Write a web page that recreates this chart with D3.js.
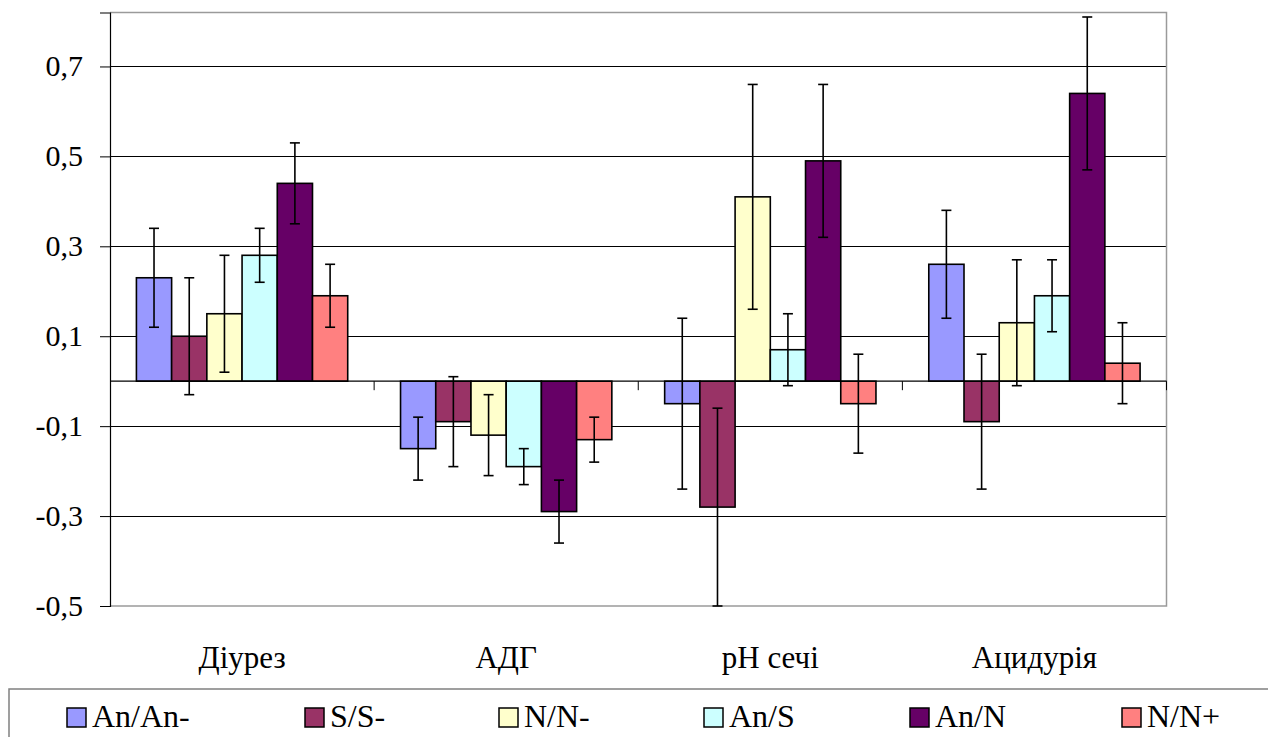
<!DOCTYPE html>
<html>
<head>
<meta charset="utf-8">
<script src="https://cdn.jsdelivr.net/npm/d3@7"></script>
<style>
  html, body { margin: 0; padding: 0; background: #fff; }
  svg { display: block; }
</style>
</head>
<body>
<svg id="chart" width="1268" height="737"></svg>
<script>
// Indicators along the category axis
const categories = ["Діурез", "АДГ", "pH сечі", "Ацидурія"];
// Comparison groups
const seriesNames = ["An/An-", "S/S-", "N/N-", "An/S", "An/N", "N/N+"];
// Mean values per group, one entry per indicator
const valAnAn = [0.23, -0.15, -0.05, 0.26];
const valSS   = [0.10, -0.09, -0.28, -0.09];
const valNN   = [0.15, -0.12, 0.41, 0.13];
const valAnS  = [0.28, -0.19, 0.07, 0.19];
const valAnN  = [0.44, -0.29, 0.49, 0.64];
const valNNp  = [0.19, -0.13, -0.05, 0.04];
// Error half-widths per group
const errAnAn = [0.11, 0.07, 0.19, 0.12];
const errSS   = [0.13, 0.10, 0.22, 0.15];
const errNN   = [0.13, 0.09, 0.25, 0.14];
const errAnS  = [0.06, 0.04, 0.08, 0.08];
const errAnN  = [0.09, 0.07, 0.17, 0.17];
const errNNp  = [0.07, 0.05, 0.11, 0.09];
// Value axis ticks
const yTicks = [0.7, 0.5, 0.3, 0.1, -0.1, -0.3, -0.5];
const yTickLabels = ["0,7", "0,5", "0,3", "0,1", "-0,1", "-0,3", "-0,5"];

const seriesValues = [valAnAn, valSS, valNN, valAnS, valAnN, valNNp];
const seriesErrors = [errAnAn, errSS, errNN, errAnS, errAnN, errNNp];
const colors = ["#9999FF", "#993366", "#FFFFCC", "#CCFFFF", "#660066", "#FF8080"];

const svg = d3.select("#chart");
const plot = { left: 110, right: 1166.5, top: 12.5, bottom: 606 };

const y = d3.scaleLinear().domain([-0.5, 0.82]).range([plot.bottom, plot.top]);
const x0 = d3.scaleBand().domain(categories).range([plot.left, plot.right])
  .paddingInner(0.2).paddingOuter(0.1);
const x1 = d3.scaleBand().domain(seriesNames).range([0, x0.bandwidth()]).padding(0);
const color = d3.scaleOrdinal().domain(seriesNames).range(colors);

// All labels share one serif face
function serifText(sel, size) {
  return sel.style("font-family", "Times New Roman")
    .style("font-size", size + "px")
    .style("fill", "#000");
}

// Gridlines
svg.append("g").selectAll("line").data(yTicks.filter(t => t > -0.5)).join("line")
  .attr("x1", plot.left).attr("x2", plot.right)
  .attr("y1", d => Math.round(y(d)) + 0.5).attr("y2", d => Math.round(y(d)) + 0.5)
  .attr("stroke", "#000").attr("stroke-width", 1);

// Plot area frame (top, right, bottom in grey)
svg.append("path")
  .attr("d", `M${plot.left},${plot.top}H${plot.right}V${plot.bottom}H${plot.left}`)
  .attr("fill", "none").attr("stroke", "#9a9a9a").attr("stroke-width", 1.5);

// Value axis: line and ticks from d3.axisLeft, labels set below
const yAxis = d3.axisLeft(y).tickValues(yTicks).tickSize(10).tickFormat("");
const gy = svg.append("g").attr("transform", `translate(${plot.left},0)`).call(yAxis);
gy.select(".domain").attr("stroke", "#000").attr("stroke-width", 1.2);
gy.selectAll(".tick line").attr("stroke", "#000");
gy.selectAll(".tick text").remove();

serifText(svg.selectAll("text.ytick").data(yTicks).join("text").attr("class", "ytick")
  .attr("x", 83).attr("y", d => y(d) + 10)
  .attr("text-anchor", "end")
  .text((d, i) => yTickLabels[i]), 30);

// Bars
const groups = svg.append("g").selectAll("g").data(categories).join("g")
  .attr("transform", c => `translate(${x0(c)},0)`);

const barData = (c, ci) => seriesNames.map((s, si) => ({
  s, v: seriesValues[si][ci], e: seriesErrors[si][ci]
}));

groups.each(function (c, ci) {
  const g = d3.select(this);
  const data = barData(c, ci);
  g.selectAll("rect").data(data).join("rect")
    .attr("x", d => x1(d.s))
    .attr("y", d => y(Math.max(0, d.v)))
    .attr("width", x1.bandwidth())
    .attr("height", d => Math.abs(y(d.v) - y(0)))
    .attr("fill", d => color(d.s))
    .attr("stroke", "#000").attr("stroke-width", 1.6);

  const eb = g.selectAll("g.err").data(data).join("g").attr("class", "err")
    .attr("transform", d => `translate(${x1(d.s) + x1.bandwidth() / 2},0)`);
  eb.append("line").attr("x1", 0).attr("x2", 0)
    .attr("y1", d => y(d.v + d.e)).attr("y2", d => y(d.v - d.e))
    .attr("stroke", "#000").attr("stroke-width", 1.6);
  eb.append("line").attr("x1", -5).attr("x2", 5)
    .attr("y1", d => y(d.v + d.e)).attr("y2", d => y(d.v + d.e))
    .attr("stroke", "#000").attr("stroke-width", 1.6);
  eb.append("line").attr("x1", -5).attr("x2", 5)
    .attr("y1", d => y(d.v - d.e)).attr("y2", d => y(d.v - d.e))
    .attr("stroke", "#000").attr("stroke-width", 1.6);
});

// Category axis at zero
const gx = svg.append("g").attr("transform", `translate(0,${y(0)})`);
gx.append("line").attr("x1", plot.left).attr("x2", plot.right)
  .attr("stroke", "#000").attr("stroke-width", 1.2);
const boundaries = categories.map(c => x0(c) - x0.step() * 0.1).concat([plot.right]);
gx.selectAll("line.tk").data(boundaries.slice(1)).join("line").attr("class", "tk")
  .attr("x1", d => d).attr("x2", d => d).attr("y1", 0).attr("y2", 9)
  .attr("stroke", "#000").attr("stroke-width", 1);

// Category labels
serifText(svg.selectAll("text.cat").data(categories).join("text").attr("class", "cat")
  .attr("x", c => x0(c) + x0.bandwidth() / 2)
  .attr("y", 668)
  .attr("text-anchor", "middle")
  .text(c => c), 31);

// Legend
const legendX = [67, 305, 499, 704, 910, 1122];
svg.append("rect").attr("x", 9).attr("y", 689).attr("width", 1300).attr("height", 100)
  .attr("fill", "none").attr("stroke", "#808080").attr("stroke-width", 1.5);
svg.selectAll("rect.key").data(seriesNames).join("rect").attr("class", "key")
  .attr("x", (s, i) => legendX[i]).attr("y", 708)
  .attr("width", 19).attr("height", 19)
  .attr("fill", s => color(s)).attr("stroke", "#000").attr("stroke-width", 1.5);
serifText(svg.selectAll("text.key").data(seriesNames).join("text").attr("class", "key")
  .attr("x", (s, i) => legendX[i] + 25).attr("y", 727)
  .text(s => s), 32);
</script>
</body>
</html>
